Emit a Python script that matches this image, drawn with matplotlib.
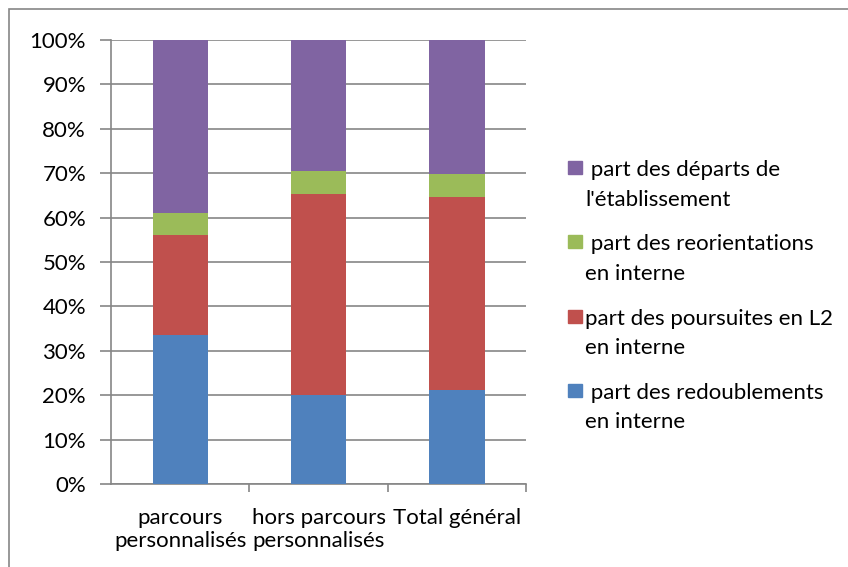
import matplotlib.pyplot as plt
import numpy as np
from matplotlib.patches import Rectangle
from matplotlib.ticker import FuncFormatter

# data (shares in %)
categories = ["parcours\npersonnalisés", "hors parcours\npersonnalisés", "Total général"]
redoublements = [33.6, 20.0, 21.1]
poursuites = [22.5, 45.2, 43.5]
reorientations = [4.9, 5.4, 5.2]
departs = [39.0, 29.4, 30.2]

series_labels = [
    " part des redoublements\nen interne",
    "part des poursuites en L2\nen interne",
    " part des reorientations\nen interne",
    " part des départs de\nl'établissement",
]
colors = ["#4F81BD", "#C0504D", "#9BBB59", "#8064A2"]

plt.rcParams["font.family"] = ["Lato", "DejaVu Sans"]
fs = 16

fig = plt.figure(figsize=(8.48, 5.67), dpi=100)
ax = fig.add_axes([0.1309, 0.1464, 0.4894, 0.7831])

x = np.arange(len(categories))
series = [redoublements, poursuites, reorientations, departs]
bottom = np.zeros(len(categories))
for vals, col in zip(series, colors):
    ax.bar(x, vals, width=0.4, bottom=bottom, color=col, edgecolor="none", zorder=3)
    bottom += np.array(vals)

ax.set_xlim(-0.5, 2.5)
ax.set_ylim(0, 100)
ax.set_yticks(np.arange(0, 101, 10))
ax.yaxis.set_major_formatter(FuncFormatter(lambda v, p: f"{int(v)}%"))
ax.grid(axis="y", color="#868686", linewidth=1.2, zorder=0)
ax.set_xticks(x)
ax.set_xticklabels(categories, fontsize=fs, linespacing=1.2)
ax.set_xticks([0.5, 1.5, 2.5], minor=True)
ax.tick_params(axis="x", which="major", length=0, pad=17)
ax.tick_params(axis="x", which="minor", length=6, color="#868686", width=1.2)
ax.tick_params(axis="y", length=8, color="#868686", width=1.2, labelsize=fs, pad=10)
for s in ["top", "right"]:
    ax.spines[s].set_visible(False)
for s in ["left", "bottom"]:
    ax.spines[s].set_color("#868686")
    ax.spines[s].set_linewidth(1.2)

# legend drawn in figure pixels, top entry = last series
W, H = 848, 567
for i, (lab, col) in enumerate(zip(series_labels[::-1], colors[::-1])):
    top = 161 + i * 74.3
    fig.patches.append(Rectangle((568 / W, 1 - (top + 13) / H), 14 / W, 13 / H,
                                 transform=fig.transFigure, color=col))
    fig.text(585 / W, 1 - (top - 1) / H, lab, fontsize=fs, va="top", ha="left",
             linespacing=1.6)

# outer chart border
fig.patches.append(Rectangle((9 / W, -0.1), 1.2, 1 - 9 / H + 0.1, transform=fig.transFigure,
                             fill=False, edgecolor="#868686", linewidth=1.2))

fig.savefig("out.png", dpi=100)
